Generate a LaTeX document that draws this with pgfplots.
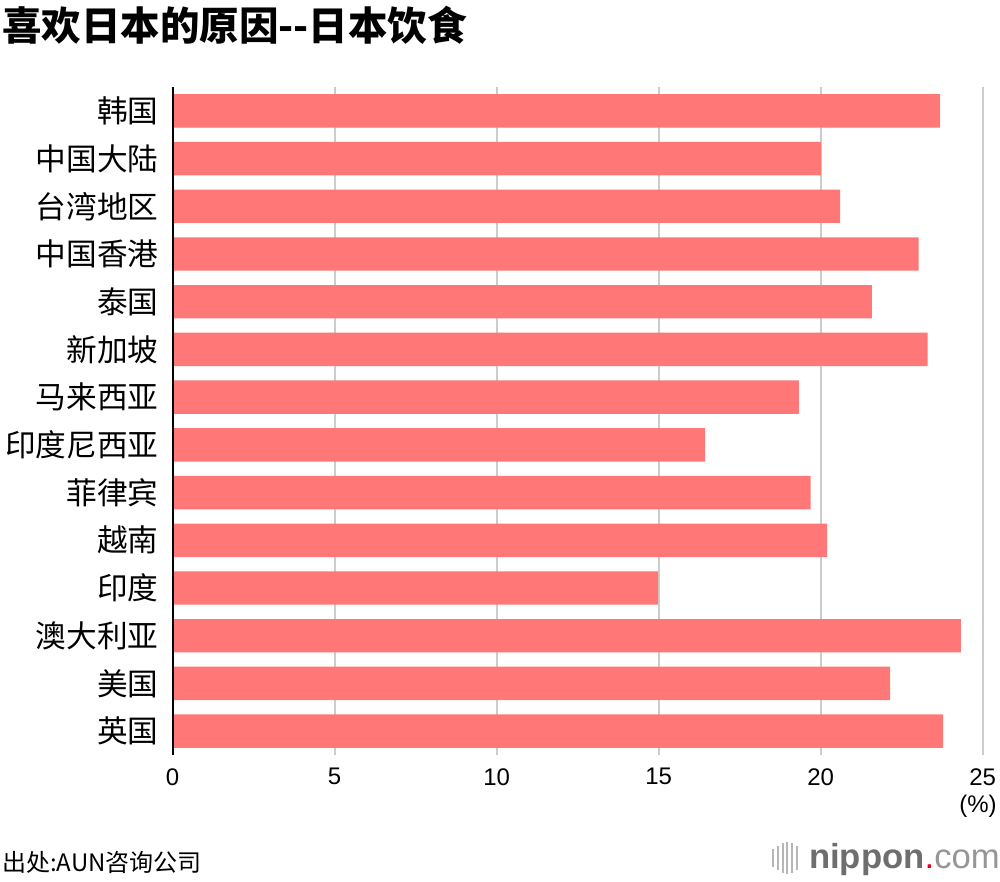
\documentclass[border=0pt]{standalone}
\usepackage{fontspec}
\setmainfont{Liberation Sans}
\newfontfamily\cjk{Noto Sans CJK SC}
\usepackage{pgfplots}
\pgfplotsset{compat=1.18}
\definecolor{barred}{RGB}{255,119,119}
\definecolor{gridgray}{RGB}{204,204,204}
\definecolor{logogray}{RGB}{110,110,110}
\definecolor{logolight}{RGB}{150,150,150}
\definecolor{logored}{RGB}{230,0,18}
\begin{document}
\begin{tikzpicture}
\path[use as bounding box] (0,0) rectangle (750pt,-661.5pt);
\begin{axis}[
  at={(129.5pt,-566.25pt)}, anchor=south west,
  width=607.5pt, height=501pt, scale only axis,
  xmin=0, xmax=25, ymin=-0.5, ymax=13.5, y dir=reverse,
  xbar, bar width=0.7,
  xtick={0,5,10,15,20,25},
  xmajorgrids, grid style={gridgray, line width=1.5pt},
  ytick={0,...,13},
  yticklabels={韩国,中国大陆,台湾地区,中国香港,泰国,新加坡,马来西亚,印度尼西亚,菲律宾,越南,印度,澳大利亚,美国,英国},
  axis line style={draw=none},
  major tick length=0pt,
  tick style={draw=none},
  yticklabel style={font=\cjk\fontsize{23}{23}\selectfont, anchor=east, inner sep=0pt, xshift=-10.5pt},
  xticklabel style={font=\fontsize{18}{18}\selectfont, anchor=north, inner sep=0pt, yshift=-9.75pt},
  /pgf/number format/assume math mode=true,
  clip=false,
]
\addplot[fill=barred, draw=none] coordinates {
(23.69,0) (20.01,1) (20.60,2) (23.02,3) (21.58,4) (23.30,5) (19.33,6)
(16.43,7) (19.69,8) (20.20,9) (14.98,10) (24.33,11) (22.14,12) (23.78,13)};
\draw[black, line width=1.5pt] (axis cs:0,-0.5) -- (axis cs:0,13.5);
\end{axis}
\node[anchor=west, inner sep=0pt, font=\cjk\bfseries\fontsize{29.6}{29.6}\selectfont] at (1.5pt,-18.75pt) {喜欢日本的原因--日本饮食};
\node[anchor=east, inner sep=0pt, font=\fontsize{18}{18}\selectfont] at (747.75pt,-604.5pt) {(\%)};
\node[anchor=west, inner sep=0pt, font=\cjk\fontsize{18}{18}\selectfont] at (1.5pt,-646.5pt) {出处:AUN咨询公司};
\node[anchor=east, inner sep=0pt, font=\fontsize{26}{26}\selectfont] at (750pt,-645pt) {\textcolor{logogray}{\bfseries nippon}\textcolor{logored}{.}\textcolor{logolight}{com}};
\foreach \xx/\hh in {580/7,583.5/9,587/11,590.5/12,594/11,597.5/9}
  \draw[logolight!70, line width=1.3pt] (\xx pt,-643.5pt-\hh pt) -- (\xx pt,-643.5pt+\hh pt);
\end{tikzpicture}
\end{document}
